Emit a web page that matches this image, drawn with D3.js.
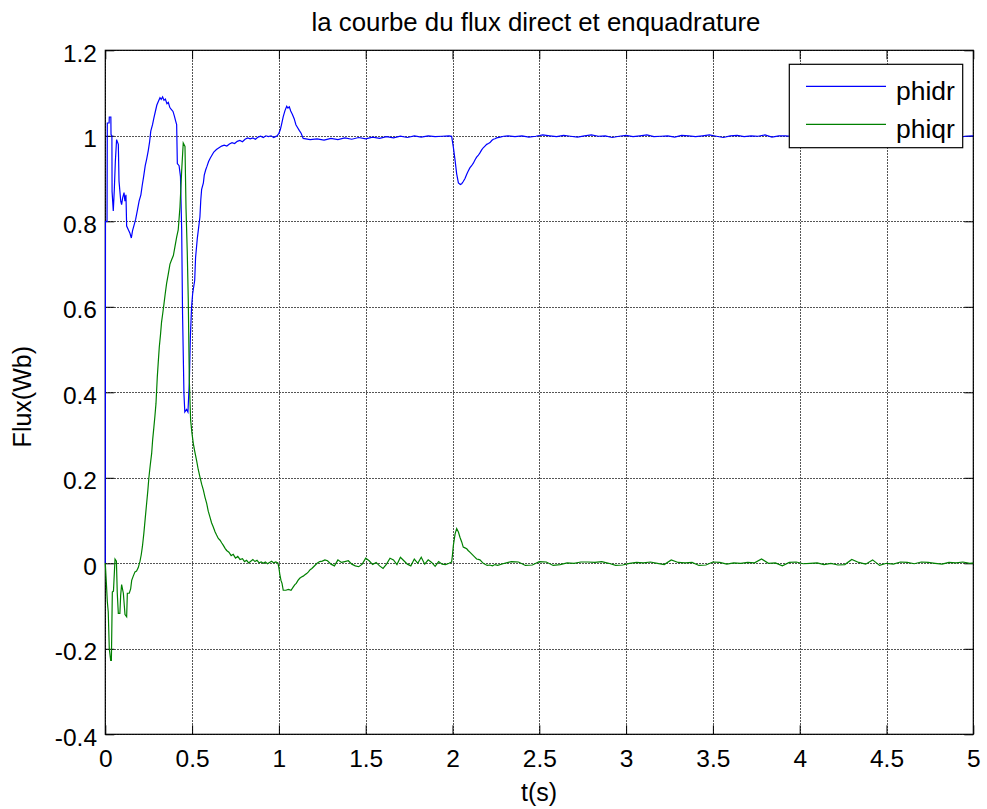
<!DOCTYPE html>
<html>
<head>
<meta charset="utf-8">
<script src="https://cdn.jsdelivr.net/npm/d3@7"></script>
<style>
  body { margin: 0; background: #fff; }
  text { font-family: "Liberation Sans", Arial, sans-serif; fill: #000; }
</style>
</head>
<body>
<div id="chart"></div>
<script>
const xTicks = [0, 0.5, 1, 1.5, 2, 2.5, 3, 3.5, 4, 4.5, 5];
const yTicks = [-0.4, -0.2, 0, 0.2, 0.4, 0.6, 0.8, 1, 1.2];
const seriesNames = ["phidr", "phiqr"];

// phidr: start-up transient and the bump at t = 1 s, as [t, value]
const phidrStart = [
  [0, 0], [0.001, 0.80], [0.01, 0.80], [0.0115, 1.030], [0.022, 1.030], [0.023, 1.044], [0.032, 1.044],
  [0.033, 1.003], [0.038, 1.0], [0.039, 0.87], [0.046, 0.824], [0.052, 0.875], [0.058, 0.941],
  [0.065, 0.991], [0.075, 0.98], [0.079, 0.894], [0.089, 0.847], [0.094, 0.839], [0.1, 0.855],
  [0.108, 0.867], [0.113, 0.847], [0.119, 0.862], [0.123, 0.789], [0.132, 0.781], [0.142, 0.772],
  [0.15, 0.761], [0.157, 0.778], [0.165, 0.79],
  [0.175, 0.805], [0.185, 0.826], [0.195, 0.848], [0.205, 0.862], [0.213, 0.885], [0.221, 0.905],
  [0.23, 0.93], [0.238, 0.945], [0.247, 0.964], [0.255, 0.985], [0.262, 1.011], [0.272, 1.026],
  [0.28, 1.042], [0.289, 1.058], [0.297, 1.072], [0.306, 1.081], [0.315, 1.089], [0.322, 1.085],
  [0.33, 1.091], [0.338, 1.083], [0.346, 1.086], [0.355, 1.075], [0.363, 1.078], [0.372, 1.066],
  [0.38, 1.062], [0.39, 1.057], [0.398, 1.046], [0.405, 1.035], [0.411, 1.026], [0.415, 0.935],
  [0.425, 0.93], [0.433, 0.905], [0.44, 0.78], [0.445, 0.584], [0.453, 0.397], [0.458, 0.354],
  [0.468, 0.36], [0.476, 0.354], [0.484, 0.424], [0.49, 0.529], [0.497, 0.60], [0.503, 0.63],
  [0.515, 0.662], [0.52, 0.715], [0.53, 0.76], [0.536, 0.78], [0.545, 0.81], [0.55, 0.85],
  [0.555, 0.875], [0.565, 0.89], [0.57, 0.908], [0.578, 0.92], [0.586, 0.929], [0.595, 0.94],
  [0.605, 0.948], [0.615, 0.955], [0.625, 0.962], [0.64, 0.968], [0.655, 0.972], [0.67, 0.976],
  [0.685, 0.978], [0.7, 0.976], [0.715, 0.981], [0.73, 0.984], [0.745, 0.982], [0.76, 0.987],
  [0.775, 0.989], [0.79, 0.986], [0.805, 0.992], [0.82, 0.995], [0.835, 0.993], [0.85, 0.995],
  [0.865, 0.992], [0.88, 0.997], [0.895, 0.999], [0.91, 0.996], [0.925, 1.0], [0.94, 0.998],
  [0.955, 1.0], [0.97, 0.996], [0.98, 0.998], [0.99, 1.0], [1.0, 1.006], [1.008, 1.014],
  [1.016, 1.028], [1.025, 1.045], [1.035, 1.059], [1.045, 1.069], [1.052, 1.065], [1.06, 1.068],
  [1.068, 1.058], [1.078, 1.05], [1.088, 1.04], [1.098, 1.026], [1.108, 1.019], [1.118, 1.012],
  [1.128, 1.006]
];
// phidr samples every 0.04 s from 1.14 s
const phidrNoiseA = [0.994, 0.991, 0.993, 0.99, 0.994, 0.991, 0.995, 0.992, 0.996, 0.993, 0.997,
  0.994, 0.998, 0.995, 0.999, 0.996, 1.0, 0.997, 1.0, 0.998, 0.999, 1.0];
// phidr dip at t = 2 s
const phidrDip = [
  [1.995, 0.999], [2.005, 0.973], [2.015, 0.942], [2.024, 0.911], [2.034, 0.89], [2.045, 0.886],
  [2.053, 0.888], [2.062, 0.893], [2.072, 0.9], [2.082, 0.91], [2.09, 0.917], [2.1, 0.925],
  [2.11, 0.93], [2.12, 0.936], [2.13, 0.944], [2.139, 0.95], [2.148, 0.954], [2.158, 0.96],
  [2.168, 0.967], [2.177, 0.972], [2.187, 0.976], [2.197, 0.98], [2.207, 0.982], [2.216, 0.984],
  [2.226, 0.989], [2.235, 0.992], [2.245, 0.993], [2.254, 0.995], [2.274, 0.997], [2.295, 0.999]
];
// phidr samples every 0.04 s from 2.32 s
const phidrNoiseB = [1.0, 0.998, 1.0, 0.997, 0.999, 1.002, 1.0, 0.998, 1.001, 0.999, 0.997, 1.0,
  1.002, 0.999, 1.0, 0.996, 0.999, 1.001, 0.998, 1.0, 1.002, 0.998, 0.999, 1.0, 0.997, 1.001, 1.0,
  0.998, 1.0, 1.002, 0.999, 0.996, 1.0, 1.001, 0.998, 1.0, 0.999, 1.002, 0.997, 1.0, 1.0, 0.998,
  1.001, 0.999, 1.0, 0.997, 0.999, 1.001, 1.0, 0.998, 1.002, 0.999, 1.0, 0.997, 1.0, 1.001, 0.999,
  0.998, 1.0, 1.002, 0.999, 1.0, 0.998, 1.0, 1.001, 0.997, 0.999, 1.0];

// phiqr: start-up transient and the dip at t = 1 s
const phiqrStart = [
  [0, 0], [0.006, -0.045], [0.0117, -0.09], [0.017, -0.114], [0.023, -0.2], [0.031, -0.227],
  [0.035, -0.227], [0.0405, -0.067], [0.047, -0.065], [0.056, 0.01], [0.064, 0.005], [0.069, -0.07],
  [0.075, -0.117], [0.084, -0.117], [0.0885, -0.075], [0.094, -0.05], [0.104, -0.07], [0.1135, -0.12],
  [0.123, -0.125], [0.127, -0.07], [0.138, -0.07], [0.146, -0.06], [0.152, -0.04], [0.161, -0.03],
  [0.171, -0.02], [0.18, -0.018],
  [0.19, -0.01], [0.2, 0.005], [0.207, 0.02], [0.214, 0.04], [0.222, 0.07], [0.23, 0.105],
  [0.238, 0.14], [0.245, 0.17], [0.251, 0.2], [0.259, 0.23], [0.267, 0.257], [0.273, 0.29],
  [0.28, 0.319], [0.286, 0.345], [0.292, 0.374], [0.2995, 0.436], [0.305, 0.47], [0.311, 0.506],
  [0.318, 0.535], [0.324, 0.564], [0.331, 0.585], [0.338, 0.607], [0.345, 0.63], [0.353, 0.654],
  [0.363, 0.677], [0.3725, 0.70], [0.382, 0.71], [0.392, 0.72], [0.401, 0.74], [0.411, 0.763],
  [0.42, 0.78], [0.43, 0.833], [0.44, 0.919], [0.449, 0.983], [0.459, 0.975], [0.465, 0.83],
  [0.472, 0.73], [0.478, 0.615], [0.484, 0.428], [0.4916, 0.334], [0.499, 0.305], [0.507, 0.28],
  [0.516, 0.26], [0.526, 0.24], [0.535, 0.22], [0.545, 0.202], [0.555, 0.185], [0.565, 0.171],
  [0.574, 0.155], [0.584, 0.14], [0.593, 0.122], [0.603, 0.108], [0.612, 0.095], [0.622, 0.085],
  [0.632, 0.074], [0.641, 0.066], [0.651, 0.058], [0.661, 0.054], [0.67, 0.048], [0.68, 0.042],
  [0.69, 0.035], [0.699, 0.03], [0.712, 0.026], [0.725, 0.018], [0.737, 0.021], [0.75, 0.012],
  [0.763, 0.016], [0.776, 0.009], [0.79, 0.011], [0.802, 0.004], [0.814, 0.007], [0.826, 0.001],
  [0.838, 0.005], [0.85, 0.009], [0.862, 0.004], [0.874, 0.007], [0.886, 0.001], [0.898, 0.003],
  [0.91, 0.0], [0.922, 0.003], [0.934, -0.001], [0.946, 0.002], [0.958, 0.005], [0.97, 0.001],
  [0.982, 0.003], [0.994, 0.001], [1.0, -0.01], [1.005, -0.025], [1.012, -0.04], [1.018, -0.047],
  [1.025, -0.063], [1.04, -0.063], [1.055, -0.061], [1.07, -0.063], [1.083, -0.055], [1.092, -0.05],
  [1.1, -0.047], [1.11, -0.04], [1.12, -0.035], [1.13, -0.032], [1.14, -0.03], [1.15, -0.027],
  [1.16, -0.024], [1.17, -0.02], [1.18, -0.015], [1.19, -0.012], [1.2, -0.008], [1.21, -0.004],
  [1.22, 0.0], [1.235, 0.004], [1.25, 0.005], [1.265, 0.008], [1.28, 0.006]
];
// phiqr samples every 0.02 s from 1.30 s
const phiqrNoiseA = [-0.002, -0.006, 0.008, 0.002, 0.004, 0.006, -0.002, -0.006, -0.008, -0.002,
  0.012, 0.006, -0.003, 0.002, -0.006, -0.012, -0.002, 0.012, 0.008, -0.003, 0.014, 0.006, -0.002,
  -0.006, 0.010, 0.0, 0.014, -0.002, 0.008, 0.002, -0.007, 0.004, -0.002, -0.003, 0.0];
// phiqr bump at t = 2 s
const phiqrBump = [
  [1.995, 0.003], [2.0, 0.02], [2.005, 0.042], [2.015, 0.069], [2.024, 0.081], [2.034, 0.073],
  [2.043, 0.061], [2.053, 0.05], [2.062, 0.038], [2.072, 0.036], [2.082, 0.034], [2.09, 0.03],
  [2.1, 0.026], [2.11, 0.022], [2.12, 0.018], [2.13, 0.014], [2.139, 0.01], [2.149, 0.009],
  [2.158, 0.008], [2.168, 0.004], [2.177, 0.0], [2.19, -0.003], [2.2, -0.005], [2.215, -0.004],
  [2.23, -0.006], [2.245, -0.003]
];
// phiqr samples every 0.04 s from 2.26 s
const phiqrNoiseB = [-0.005, 0.0, 0.004, 0.003, -0.005, -0.004, 0.004, 0.003, -0.005, -0.003, 0.001,
  0.0, 0.003, 0.003, 0.002, 0.004, 0.0, -0.005, -0.004, 0.0, 0.002, 0.001, 0.003, 0.0, -0.003, 0.008,
  0.002, 0.001, 0.002, -0.005, -0.004, 0.003, 0.002, -0.002, 0.001, 0.0, 0.002, 0.001, 0.010, 0.0,
  0.001, -0.006, 0.002, 0.003, -0.001, 0.0, 0.001, -0.003, 0.0, -0.004, -0.003, 0.009, 0.002, -0.002,
  0.008, -0.005, 0.0, -0.002, 0.003, 0.002, -0.001, 0.003, 0.002, 0.0, -0.002, 0.002, 0.001, 0.003,
  0.0, 0.002];

function held(start, step, values) {
  return values.map((v, i) => [start + i * step, v]);
}

const phidr = phidrStart.concat(held(1.14, 0.04, phidrNoiseA), phidrDip, held(2.32, 0.04, phidrNoiseB));
const phiqr = phiqrStart.concat(held(1.30, 0.02, phiqrNoiseA), phiqrBump, held(2.26, 0.04, phiqrNoiseB));

const margin = {top: 50.3, right: 13.7, bottom: 74.7, left: 105.3},
      width = 987 - margin.left - margin.right,
      height = 809 - margin.top - margin.bottom;

const svgRoot = d3.select("#chart")
  .append("svg")
  .attr("width", 987)
  .attr("height", 809)
  .style("display", "block");

svgRoot.append("rect").attr("width", 987).attr("height", 809).attr("fill", "#fff");

const svg = svgRoot.append("g")
  .attr("transform", `translate(${margin.left},${margin.top})`);

const x = d3.scaleLinear().domain([0, 5]).range([0, width]);
const y = d3.scaleLinear().domain([-0.4, 1.2]).range([height, 0]);

// grid
const gridX = svg.append("g")
  .attr("transform", `translate(0,${height})`)
  .call(d3.axisBottom(x).tickValues(xTicks).tickSize(-height).tickFormat(""));
const gridY = svg.append("g")
  .call(d3.axisLeft(y).tickValues(yTicks).tickSize(-width).tickFormat(""));
[gridX, gridY].forEach(g => {
  g.select(".domain").remove();
  g.selectAll("line")
    .attr("stroke", "#555")
    .attr("stroke-width", 1)
    .attr("stroke-dasharray", "2,1")
    .attr("shape-rendering", "crispEdges");
});

// box
svg.append("rect")
  .attr("width", width)
  .attr("height", height)
  .attr("fill", "none")
  .attr("stroke", "#000")
  .attr("stroke-width", 1.2);

const tickFmt = d => String(d);

const xAxis = svg.append("g")
  .attr("transform", `translate(0,${height})`)
  .call(d3.axisBottom(x).tickValues(xTicks).tickSize(-9).tickPadding(15.3).tickFormat(tickFmt));
const xAxisTop = svg.append("g")
  .call(d3.axisTop(x).tickValues(xTicks).tickSize(-9).tickFormat(""));
const yAxis = svg.append("g")
  .call(d3.axisLeft(y).tickValues(yTicks).tickSize(-9).tickPadding(8.3).tickFormat(tickFmt));
const yAxisRight = svg.append("g")
  .attr("transform", `translate(${width},0)`)
  .call(d3.axisRight(y).tickValues(yTicks).tickSize(-9).tickFormat(""));

[xAxis, xAxisTop, yAxis, yAxisRight].forEach(g => {
  g.select(".domain").remove();
  g.selectAll("line").attr("stroke", "#000").attr("stroke-width", 1);
  g.selectAll("text")
    .attr("font-family", '"Liberation Sans", Arial, sans-serif')
    .attr("font-size", 24.5)
    .attr("fill", "#000");
});
yAxis.selectAll("text").attr("dy", "0.45em");

// data
svg.append("clipPath").attr("id", "plotArea")
  .append("rect").attr("x", -2).attr("y", -2).attr("width", width + 2).attr("height", height + 4);

const line = d3.line()
  .x(d => x(d[0]))
  .y(d => y(d[1]));

const colors = {phidr: "#0000ff", phiqr: "#008000"};

svg.append("path")
  .datum(phidr)
  .attr("clip-path", "url(#plotArea)")
  .attr("fill", "none")
  .attr("stroke", colors.phidr)
  .attr("stroke-width", 1.2)
  .attr("d", line);

svg.append("path")
  .datum(phiqr)
  .attr("clip-path", "url(#plotArea)")
  .attr("fill", "none")
  .attr("stroke", colors.phiqr)
  .attr("stroke-width", 1.2)
  .attr("d", line);

// legend
const legend = svgRoot.append("g").attr("transform", "translate(789.3,64.3)");
legend.append("rect")
  .attr("width", 173.4)
  .attr("height", 83.4)
  .attr("fill", "#fff")
  .attr("stroke", "#000")
  .attr("stroke-width", 1.2);
seriesNames.forEach((name, i) => {
  const ly = 22 + i * 38;
  legend.append("line")
    .attr("x1", 16.7).attr("x2", 96.7)
    .attr("y1", ly).attr("y2", ly)
    .attr("stroke", colors[name])
    .attr("stroke-width", 1.2);
  legend.append("text")
    .attr("x", 106.7)
    .attr("y", ly + 14)
    .attr("font-size", 26.5)
    .text(name);
});

// labels
svgRoot.append("text")
  .attr("x", 536)
  .attr("y", 30.7)
  .attr("text-anchor", "middle")
  .attr("font-size", 25.8)
  .text("la courbe du flux direct et enquadrature");

svgRoot.append("text")
  .attr("x", 539)
  .attr("y", 801)
  .attr("text-anchor", "middle")
  .attr("font-size", 25)
  .text("t(s)");

svgRoot.append("text")
  .attr("text-anchor", "middle")
  .attr("transform", "translate(31,396.7)rotate(-90)")
  .attr("font-size", 25)
  .text("Flux(Wb)");
</script>
</body>
</html>
